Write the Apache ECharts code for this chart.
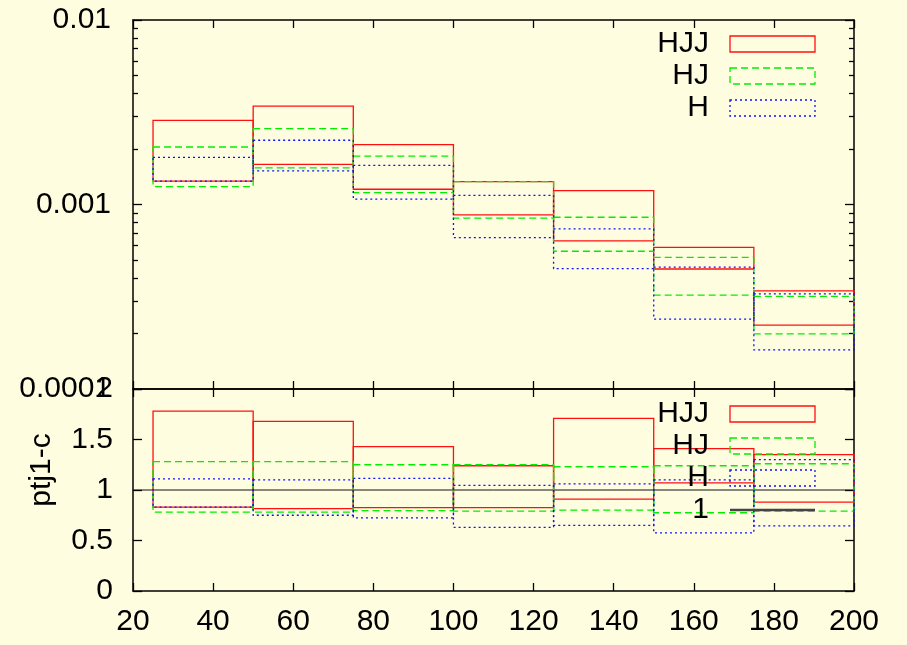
<!DOCTYPE html>
<html>
<head>
<meta charset="utf-8">
<title>ptj1-c</title>
<script src="https://cdn.jsdelivr.net/npm/echarts@6/dist/echarts.min.js"></script>
<style>
  html, body { margin: 0; padding: 0; background: #fffde0; }
  #chart { width: 907px; height: 645px; }
</style>
</head>
<body>
<div id="chart"></div>
<script>
// Bin edges of the ptj1 histogram
const binEdges = [25, 50, 75, 100, 125, 150, 175, 200];

// Upper panel: cross-section bands (upper / lower edge per bin)
const hjjHi = [0.00286, 0.00341, 0.00211, 0.00133, 0.00119, 0.000586, 0.00034];
const hjjLo = [0.00134, 0.00165, 0.00121, 0.000879, 0.000635, 0.000447, 0.000222];
const hjHi  = [0.00205, 0.00258, 0.00183, 0.00133, 0.000853, 0.000517, 0.000318];
const hjLo  = [0.00125, 0.00158, 0.00116, 0.000843, 0.000558, 0.000323, 0.000199];
const hHi   = [0.00180, 0.00223, 0.00163, 0.00112, 0.000738, 0.000458, 0.000328];
const hLo   = [0.00134, 0.00152, 0.00107, 0.000662, 0.000449, 0.000239, 0.000163];

// Lower panel: ratio bands
const rHjjHi = [1.78, 1.68, 1.43, 1.24, 1.71, 1.41, 1.35];
const rHjjLo = [0.83, 0.815, 0.825, 0.825, 0.91, 1.07, 0.88];
const rHjHi  = [1.28, 1.28, 1.25, 1.25, 1.23, 1.24, 1.26];
const rHjLo  = [0.78, 0.78, 0.795, 0.79, 0.80, 0.775, 0.79];
const rHHi   = [1.11, 1.10, 1.115, 1.045, 1.06, 1.10, 1.30];
const rHLo   = [0.83, 0.75, 0.725, 0.63, 0.65, 0.575, 0.645];

// Reference level of the ratio panel
const refLevel = 1;

// Axis ticks
const xMin = 20, xMax = 200, xStep = 20;
const logTickLabels = ['0.0001', '0.001', '0.01'];
const ratioMin = 0, ratioMax = 2, ratioStep = 0.5;

const FONT = 'Liberation Sans';
const INK = '#000';

// log-space positions of decade and minor ticks for the upper panel
const logMajor = logTickLabels.map(s => Math.log10(Number(s)));
const logMinor = [];
for (let d = logMajor[0]; d < logMajor[logMajor.length - 1]; d++) {
  for (let k = 2; k <= 9; k++) logMinor.push(d + Math.log10(k));
}

function bins(lo, hi) {
  return lo.map((v, i) => [binEdges[i], binEdges[i + 1], v, hi[i]]);
}

function binRenderer(dash, width) {
  return function (params, api) {
    const a = api.coord([api.value(0), api.value(3)]);
    const b = api.coord([api.value(1), api.value(2)]);
    return {
      type: 'rect',
      shape: { x: a[0], y: a[1], width: b[0] - a[0], height: b[1] - a[1] },
      style: { fill: 'none', stroke: api.visual('color'), lineWidth: width, lineDash: dash }
    };
  };
}

const look = {
  HJJ: { color: '#ff1010', dash: null, width: 1.3 },
  HJ:  { color: '#00ee00', dash: [7, 4], width: 1.3 },
  H:   { color: '#1010ff', dash: [2, 3], width: 1.3 }
};

function bandSeries(name, lo, hi, xi, yi) {
  return {
    type: 'custom',
    name: name,
    xAxisIndex: xi,
    yAxisIndex: yi,
    clip: false,
    itemStyle: { color: look[name].color },
    encode: { x: [0, 1], y: [2, 3] },
    renderItem: binRenderer(look[name].dash, look[name].width),
    data: bins(lo, hi),
    z: 3
  };
}

const axisLine = { show: true, onZero: false, lineStyle: { color: INK, width: 1.5 } };
const noLine = { show: false };
const tickStyle = { color: INK, width: 1.3 };
const labelFont = { fontFamily: FONT, fontSize: 30, color: INK };

function xAx(grid, pos, labels) {
  return {
    type: 'value', gridIndex: grid, position: pos,
    min: xMin, max: xMax, interval: xStep,
    axisLine: axisLine,
    axisTick: { show: true, inside: true, length: 8, lineStyle: tickStyle },
    axisLabel: labels ? Object.assign({ show: true, margin: 16 }, labelFont) : { show: false },
    splitLine: { show: false }
  };
}

function logHelper(pos, values, len, labels) {
  return {
    type: 'value', gridIndex: 0, position: pos,
    min: logMajor[0], max: logMajor[logMajor.length - 1],
    axisLine: noLine,
    axisTick: { show: true, inside: true, length: len, lineStyle: tickStyle, customValues: values },
    axisLabel: labels ? Object.assign({
      show: true, margin: 22, customValues: logMajor,
      formatter: v => logTickLabels[logMajor.findIndex(m => Math.abs(m - v) < 1e-9)]
    }, labelFont) : { show: false },
    splitLine: { show: false }
  };
}

function ratioAx(pos, labels) {
  const ax = {
    type: 'value', gridIndex: 1, position: pos,
    min: ratioMin, max: ratioMax, interval: ratioStep,
    axisLine: axisLine,
    axisTick: { show: true, inside: true, length: 9, lineStyle: tickStyle },
    axisLabel: labels ? Object.assign({ show: true, margin: 20 }, labelFont) : { show: false },
    splitLine: { show: false }
  };
  if (labels) {
    ax.name = 'ptj1-c';
    ax.nameLocation = 'middle';
    ax.nameGap = 76;
    ax.nameRotate = 90;
    ax.nameTextStyle = { fontFamily: FONT, fontSize: 30, color: INK, padding: [0, 0, 0, 40] };
  }
  return ax;
}

function legendItem(name) {
  const s = look[name];
  return {
    name: name,
    icon: 'rect',
    itemStyle: {
      color: 'transparent', borderColor: s.color, borderWidth: s.width,
      borderType: s.dash ? s.dash : 'solid'
    }
  };
}

const legendText = {
  fontFamily: FONT, fontSize: 30, color: INK,
  width: 60, lineHeight: 16, padding: [0, 16, 0, 0]
};

function legend(top, withRef) {
  const data = ['HJJ', 'HJ', 'H'].map(legendItem);
  if (withRef) {
    data.push({
      name: '1',
      itemStyle: { opacity: 0 },
      lineStyle: { color: '#444', width: 2.5, type: 'solid' }
    });
  }
  return {
    orient: 'vertical', align: 'right',
    left: 649, top: top, padding: 0,
    itemWidth: 85, itemHeight: 16, itemGap: 2,
    selectedMode: false,
    textStyle: legendText,
    data: data
  };
}

const chart = echarts.init(document.getElementById('chart'), null, { renderer: 'canvas' });

chart.setOption({
  backgroundColor: '#fffde0',
  animation: false,
  grid: [
    { left: 133, right: 53, top: 20, height: 369, outerBoundsMode: 'none' },
    { left: 133, right: 53, top: 389, height: 202, outerBoundsMode: 'none' }
  ],
  xAxis: [
    xAx(0, 'bottom', false),
    xAx(0, 'top', false),
    xAx(1, 'bottom', true),
    xAx(1, 'top', false)
  ],
  yAxis: [
    {
      type: 'log', logBase: 10, gridIndex: 0, position: 'left',
      min: Number(logTickLabels[0]), max: Number(logTickLabels[logTickLabels.length - 1]),
      axisLine: axisLine, axisTick: { show: false }, axisLabel: { show: false },
      splitLine: { show: false }
    },
    logHelper('left', logMajor, 9, true),
    logHelper('left', logMinor, 5, false),
    Object.assign(logHelper('right', logMajor, 9, false), { axisLine: axisLine }),
    logHelper('right', logMinor, 5, false),
    ratioAx('left', true),
    ratioAx('right', false)
  ],
  legend: [legend(29, false), legend(399, true)],
  series: [
    bandSeries('HJJ', hjjLo, hjjHi, 0, 0),
    bandSeries('HJ', hjLo, hjHi, 0, 0),
    bandSeries('H', hLo, hHi, 0, 0),
    {
      type: 'line', name: '1', xAxisIndex: 2, yAxisIndex: 5,
      symbol: 'none', silent: true,
      lineStyle: { color: '#111', width: 1 },
      data: [[xMin, refLevel], [xMax, refLevel]],
      z: 2
    },
    bandSeries('HJJ', rHjjLo, rHjjHi, 2, 5),
    bandSeries('HJ', rHjLo, rHjHi, 2, 5),
    bandSeries('H', rHLo, rHHi, 2, 5)
  ]
});
</script>
</body>
</html>
